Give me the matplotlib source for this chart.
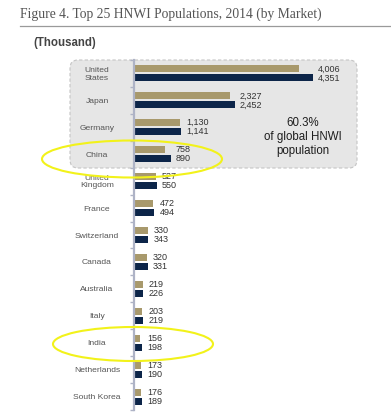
import matplotlib
matplotlib.use("Agg")
import matplotlib.pyplot as plt
from matplotlib.patches import FancyBboxPatch, Ellipse
from matplotlib.lines import Line2D
import numpy as np

markets = ["United\nStates", "Japan", "Germany", "China", "United\nKingdom", "France",
           "Switzerland", "Canada", "Australia", "Italy", "India", "Netherlands", "South Korea"]
hnwi_2013 = [4006, 2327, 1130, 758, 527, 472, 330, 320, 219, 203, 156, 173, 176]
hnwi_2014 = [4351, 2452, 1141, 890, 550, 494, 343, 331, 226, 219, 198, 190, 189]
share_text = "60.3%\nof global HNWI\npopulation"

GOLD = "#a8996c"
NAVY = "#0c2549"
SPINE = "#aeb3c6"
W, H = 391, 413
plt.rcParams['font.family'] = ['Liberation Sans', 'DejaVu Sans']

fig = plt.figure(figsize=(W / 100, H / 100), dpi=100)
fig.patch.set_facecolor("white")

# title & rule
fig.text(20 / W, 1 - 14 / H, "Figure 4. Top 25 HNWI Populations, 2014 (by Market)",
         family=['Liberation Serif', 'DejaVu Serif'], fontsize=9.8, color="#555555",
         ha="left", va="center")
fig.add_artist(Line2D([20 / W, 1.0], [1 - 25.5 / H, 1 - 25.5 / H], transform=fig.transFigure,
                      color="#9a9a9a", lw=0.9))
fig.text(33 / W, 1 - 43 / H, "(Thousand)", fontsize=8.3, fontweight="bold", color="#444444",
         ha="left", va="center")

# grey box
box = FancyBboxPatch((70 / W, 1 - 168 / H), 287 / W, 108 / H,
                     boxstyle="round,pad=0,rounding_size=0.02",
                     transform=fig.transFigure, facecolor="#e6e6e6", edgecolor="#c4c4c4",
                     lw=0.8, linestyle=(0, (3, 2)), zorder=0)
fig.add_artist(box)

ax = fig.add_axes([134 / W, 3 / H, 226 / W, 350 / H])
ax.set_facecolor("none")
n = len(markets)
y = np.arange(n)
off, hgt = 0.167, 0.26
ax.barh(y - off, hnwi_2013, height=hgt, color=GOLD, zorder=2)
ax.barh(y + off, hnwi_2014, height=hgt, color=NAVY, zorder=2)
ax.set_xlim(0, 226 / 0.0411)
ax.set_ylim(n - 0.5, -0.5)

for i in range(n):
    xm = max(hnwi_2013[i], hnwi_2014[i])
    for v, yy in ((hnwi_2013[i], y[i] - off), (hnwi_2014[i], y[i] + off)):
        ax.annotate(f"{v:,}", (xm, yy), xytext=(3.8, 0), textcoords="offset points",
                    ha="left", va="center", fontsize=6.5, color="#333333")

ax.set_yticks(y)
ax.set_yticklabels(markets, fontsize=6.1, color="#555555", ha="center",
                   multialignment="center", linespacing=1.05)
ax.tick_params(axis="y", which="major", length=0, pad=26.6)
ax.set_yticks(np.arange(-0.5, n, 1.0), minor=True)
ax.tick_params(axis="y", which="minor", length=3, width=1, color=SPINE)
ax.set_xticks([])
for s in ("top", "right", "bottom"):
    ax.spines[s].set_visible(False)
ax.spines["left"].set_color(SPINE)
ax.spines["left"].set_linewidth(1.6)

fig.text(303 / W, 1 - 137 / H, share_text, fontsize=8.3, color="#1e1e1e",
         ha="center", va="center", linespacing=1.2)

# highlight ellipses
for cx, cy, ew, eh in ((132, 159, 180, 37), (133, 344, 160, 34)):
    e = Ellipse((cx / W, 1 - cy / H), ew / W, eh / H, transform=fig.transFigure,
                facecolor="none", edgecolor="#f2f21a", lw=1.5, zorder=5)
    fig.add_artist(e)

fig.savefig("out.png", dpi=100)
